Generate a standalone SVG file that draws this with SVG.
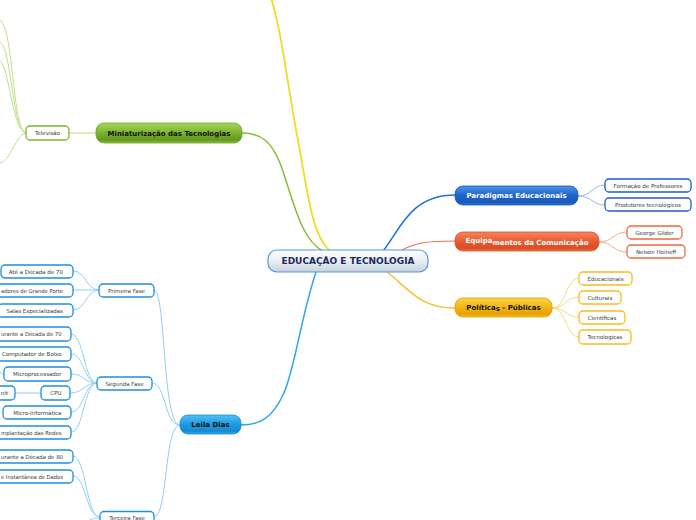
<svg xmlns="http://www.w3.org/2000/svg" width="696" height="520" viewBox="0 0 696 520">
<defs>
<linearGradient id="gCenter" x1="0" y1="0" x2="0" y2="1"><stop offset="0" stop-color="#ffffff"/><stop offset="0.5" stop-color="#e9eef4"/><stop offset="1" stop-color="#c7d1dc"/></linearGradient>
<linearGradient id="gGreen" x1="0" y1="0" x2="0" y2="1"><stop offset="0" stop-color="#a8d65c"/><stop offset="0.5" stop-color="#7bb22d"/><stop offset="0.85" stop-color="#64981c"/><stop offset="1" stop-color="#8cc244"/></linearGradient>
<linearGradient id="gBlue" x1="0" y1="0" x2="0" y2="1"><stop offset="0" stop-color="#4c92e8"/><stop offset="0.5" stop-color="#1f64cc"/><stop offset="0.85" stop-color="#1a58bc"/><stop offset="1" stop-color="#2f74d4"/></linearGradient>
<linearGradient id="gOrange" x1="0" y1="0" x2="0" y2="1"><stop offset="0" stop-color="#f8845e"/><stop offset="0.5" stop-color="#e85a30"/><stop offset="0.85" stop-color="#d84e24"/><stop offset="1" stop-color="#f07048"/></linearGradient>
<linearGradient id="gGold" x1="0" y1="0" x2="0" y2="1"><stop offset="0" stop-color="#fcd446"/><stop offset="0.5" stop-color="#f2b414"/><stop offset="0.85" stop-color="#e4a200"/><stop offset="1" stop-color="#f8c430"/></linearGradient>
<linearGradient id="gSky" x1="0" y1="0" x2="0" y2="1"><stop offset="0" stop-color="#52c0f6"/><stop offset="0.5" stop-color="#1c9ae2"/><stop offset="0.85" stop-color="#168ad2"/><stop offset="1" stop-color="#34aaea"/></linearGradient>
<style>
.c{fill:none}
.t{font-family:"DejaVu Sans",Verdana,sans-serif;font-size:5.5px;fill:#3a3a3a}
.b{font-family:"DejaVu Sans",Verdana,sans-serif;font-size:7px;font-weight:bold}
.leaf{fill:#fff;stroke-width:1.3}
.lb{stroke:#1e8fe0}
.lg{stroke:#7ab82a}
.lp{stroke:#1e5cc8}
.lo{stroke:#ec6a44}
.ly{stroke:#f8bc1c}
</style>
</defs>
<rect width="696" height="520" fill="#fff"/>
<g id="connectors" class="c">
<path d="M270,-5 C282,30 288,90 298,140 C308,195 312,235 330,251" stroke="#f0dc20" stroke-width="1.8"/>
<path d="M242,133 C262,133 272,143 280,163 C292,195 300,240 323,251" stroke="#86bc34" stroke-width="1.5"/>
<path d="M96,133 L69,133" stroke="#b8dc84" stroke-width="1"/>
<path d="M26,133 C12,130 14,30 0,20" stroke="#c0e090" stroke-width="1"/>
<path d="M26,133 C12,130 12,50 0,42" stroke="#c0e090" stroke-width="1"/>
<path d="M26,133 C12,130 10,70 0,61" stroke="#c0e090" stroke-width="1"/>
<path d="M26,133 C15,135 12,160 0,163" stroke="#c0e090" stroke-width="1"/>
<path d="M383,251 C400,230 410,195 455,195" stroke="#2070d0" stroke-width="1.5"/>
<path d="M400,251 C415,243 425,241 455,241" stroke="#f07050" stroke-width="1.2"/>
<path d="M386,271 C410,290 420,308 455,308" stroke="#f8c030" stroke-width="1.5"/>
<path d="M316,272 C300,320 295,370 283,395 C272,418 260,425 241,425" stroke="#30a8e8" stroke-width="1.5"/>
<path d="M578,196 C592,196 592,185 605,185 M578,196 C592,196 592,205 605,205" stroke="#90b8f0" stroke-width="1"/>
<path d="M599,242 C613,242 613,232 627,232 M599,242 C613,242 613,252 627,252" stroke="#f8a890" stroke-width="1"/>
<path d="M552,308 C566,308 566,278 579,278 M552,308 C566,308 566,297 579,297 M552,308 C566,308 566,317 579,317 M552,308 C566,308 566,337 579,337" stroke="#fcd880" stroke-width="1"/>
<path d="M180,425 C162,425 166,290 154,290 M180,425 C164,425 166,383 152,383 M180,425 C164,425 168,517 154,517" stroke="#90d0f2" stroke-width="1"/>
<path d="M99,290 C86,290 86,271 73,271 M99,290 C86,290 86,290 73,290 M99,290 C86,290 86,310 73,310" stroke="#90d0f2" stroke-width="1"/>
<path d="M97,383 C84,383 84,334 71,334 M97,383 C84,383 84,354 71,354 M97,383 C84,383 84,374 71,374 M97,383 C84,383 84,393 70,393 M97,383 C84,383 84,412 71,412 M97,383 C84,383 84,432 71,432" stroke="#90d0f2" stroke-width="1"/>
<path d="M41,393 L15,393 M4,374 C0,374 -2,370 -6,360" stroke="#90d0f2" stroke-width="1"/>
<path d="M100,517 C86,517 86,456 73,456 M100,517 C86,517 86,476 73,476 M100,518 C95,518 90,519 85,523" stroke="#90d0f2" stroke-width="1"/>
</g>
<g id="center">
<rect x="268" y="250" width="160" height="22" rx="9" fill="url(#gCenter)" stroke="#5898d8" stroke-width="1.2"/>
<text x="348" y="264.3" text-anchor="middle" font-family="DejaVu Sans,Verdana,sans-serif" font-size="9" font-weight="bold" fill="#1a2a5c">EDUCAÇÃO E TECNOLOGIA</text>
</g>
<g id="miniaturizacao">
<rect x="96" y="123" width="146" height="20" rx="8" fill="url(#gGreen)" stroke="#6fa424" stroke-width="0.8"/>
<text class="b" x="169" y="135.5" text-anchor="middle" fill="#111" font-size="6.8">Miniaturização das Tecnologias</text>
</g>
<g id="televisao">
<rect class="leaf lg" x="26" y="126" width="43" height="14" rx="4"/>
<text class="t" x="47.5" y="135" text-anchor="middle">Televisão</text>
</g>
<g id="paradigmas">
<rect x="455" y="186" width="123" height="19" rx="8" fill="url(#gBlue)" stroke="#1a58b8" stroke-width="0.8"/>
<text class="b" x="516.5" y="198" text-anchor="middle" fill="#fff">Paradigmas Educacionais</text>
</g>
<g id="formacao"><rect class="leaf lp" x="605" y="179" width="86" height="13" rx="4"/><text class="t" x="648" y="187.5" text-anchor="middle">Formação de Professores</text></g>
<g id="produtores"><rect class="leaf lp" x="605" y="198" width="86" height="13" rx="4"/><text class="t" x="648" y="206.5" text-anchor="middle">Produtores tecnológicos</text></g>
<g id="equipamentos">
<rect x="455" y="232" width="144" height="19" rx="8" fill="url(#gOrange)" stroke="#d85028" stroke-width="0.8"/>
<text class="b" x="527" y="244.5" text-anchor="middle" fill="#fff"><tspan dy="-1.6">Equipa</tspan><tspan dy="1.6">mentos da Comunicação</tspan></text>
</g>
<g id="gilder"><rect class="leaf lo" x="627" y="226" width="55" height="13" rx="4"/><text class="t" x="654.5" y="234.5" text-anchor="middle">George Gilder</text></g>
<g id="hoineff"><rect class="leaf lo" x="627" y="245" width="58" height="13" rx="4"/><text class="t" x="656" y="253.5" text-anchor="middle">Nelson Hoineff</text></g>
<g id="politicas">
<rect x="455" y="298" width="97" height="19" rx="8" fill="url(#gGold)" stroke="#e0a000" stroke-width="0.8"/>
<text class="b" x="503.5" y="310" text-anchor="middle" fill="#111">Política<tspan dy="1.2">s</tspan><tspan dy="-1.2"> - Públicas</tspan></text>
</g>
<g id="educacionais"><rect class="leaf ly" x="579" y="272" width="53" height="13" rx="4"/><text class="t" x="605.5" y="280.5" text-anchor="middle">Educacionais</text></g>
<g id="culturais"><rect class="leaf ly" x="579" y="291" width="42" height="13" rx="4"/><text class="t" x="600" y="299.5" text-anchor="middle">Culturais</text></g>
<g id="cientificas"><rect class="leaf ly" x="579" y="311" width="46" height="13" rx="4"/><text class="t" x="602" y="319.5" text-anchor="middle">Científicas</text></g>
<g id="tecnologicas"><rect class="leaf ly" x="579" y="330" width="52" height="14" rx="4"/><text class="t" x="605" y="339" text-anchor="middle">Tecnologicas</text></g>
<g id="leila">
<rect x="180" y="415" width="61" height="19" rx="8" fill="url(#gSky)" stroke="#1888d0" stroke-width="0.8"/>
<text class="b" x="210.5" y="427" text-anchor="middle" fill="#111">Leila Dias</text>
</g>
<g id="primeira"><rect class="leaf lb" x="99" y="284" width="55" height="13" rx="4"/><text class="t" x="126.5" y="292.5" text-anchor="middle">Primeira Fase</text></g>
<g id="segunda"><rect class="leaf lb" x="97" y="377" width="55" height="13" rx="4"/><text class="t" x="124.5" y="385.5" text-anchor="middle">Segunda Fase</text></g>
<g id="terceira"><rect class="leaf lb" x="100" y="511.5" width="54" height="13" rx="4"/><text class="t" x="127" y="520" text-anchor="middle">Terceira Fase</text></g>
<g id="ate70"><rect class="leaf lb" x="1" y="265" width="72" height="13" rx="4"/><text class="t" x="63" y="273.5" text-anchor="end">Até a Década de 70</text></g>
<g id="grandeporte"><rect class="leaf lb" x="-30" y="284" width="103" height="13" rx="4"/><text class="t" x="63" y="292.5" text-anchor="end" textLength="62" lengthAdjust="spacingAndGlyphs">adores de Grande Porte</text></g>
<g id="salas"><rect class="leaf lb" x="-2" y="304" width="75" height="13" rx="4"/><text class="t" x="63" y="312.5" text-anchor="end">Salas Especializadas</text></g>
<g id="durante70"><rect class="leaf lb" x="-30" y="327" width="101" height="14" rx="4"/><text class="t" x="61.5" y="336" text-anchor="end" textLength="60.5" lengthAdjust="spacingAndGlyphs">urante a Década de 70</text></g>
<g id="bolso"><rect class="leaf lb" x="-8" y="347" width="79" height="14" rx="4"/><text class="t" x="61.5" y="356" text-anchor="end">Computador de Bolso</text></g>
<g id="micro"><rect class="leaf lb" x="4" y="367" width="67" height="14" rx="4"/><text class="t" x="61.5" y="376" text-anchor="end">Microprocessador</text></g>
<g id="cpu"><rect class="leaf lb" x="41" y="386" width="29" height="14" rx="4"/><text class="t" x="61.5" y="395" text-anchor="end">CPU</text></g>
<g id="unit"><rect class="leaf lb" x="-30" y="386" width="45" height="14" rx="4"/><text class="t" x="8" y="395" text-anchor="end">nit</text></g>
<g id="microinfo"><rect class="leaf lb" x="3" y="406" width="68" height="13" rx="4"/><text class="t" x="61.5" y="414.5" text-anchor="end">Micro-Informática</text></g>
<g id="redes"><rect class="leaf lb" x="-30" y="426" width="101" height="13" rx="4"/><text class="t" x="61.5" y="434.5" text-anchor="end" textLength="60.5" lengthAdjust="spacingAndGlyphs">mplantação das Redes</text></g>
<g id="durante80"><rect class="leaf lb" x="-30" y="450" width="103" height="13" rx="4"/><text class="t" x="63" y="458.5" text-anchor="end" textLength="62" lengthAdjust="spacingAndGlyphs">urante a Década de 80</text></g>
<g id="instantanea"><rect class="leaf lb" x="-30" y="470" width="103" height="13" rx="4"/><text class="t" x="63" y="478.5" text-anchor="end" textLength="62" lengthAdjust="spacingAndGlyphs">e Instantânea de Dados</text></g>
</svg>
